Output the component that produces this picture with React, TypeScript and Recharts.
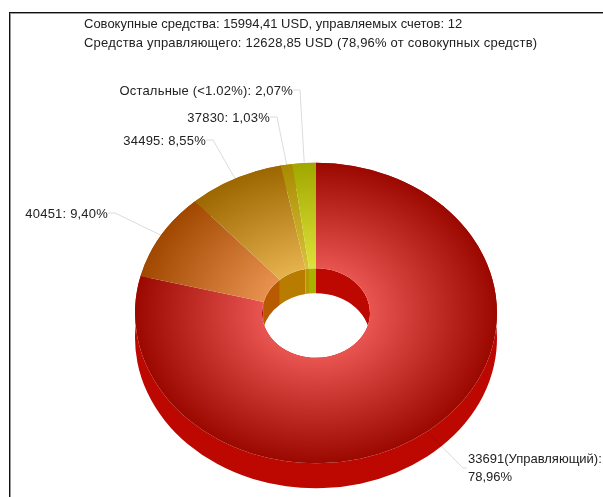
import React from "react";
import { PieChart, Pie } from "recharts";

const SLICE_NAMES = ["33691(Управляющий):", "40451:", "34495:", "37830:", "Остальные (<1.02%):"];
const SLICE_VALUES = [78.96, 9.4, 8.55, 1.03, 2.07];
const SLICE_LABELS = ["78,96%", "9,40%", "8,55%", "1,03%", "2,07%"];
const HEADER_LINES = [
  "Совокупные средства: 15994,41 USD, управляемых счетов: 12",
  "Средства управляющего: 12628,85 USD (78,96% от совокупных средств)",
];

const LIGHT = ["#e85450", "#e8914f", "#e6b24e", "#d9c23c", "#dde23a"];
const DARK = ["#9a0800", "#a04800", "#9c6600", "#a88a00", "#a0a800"];
const WALL = ["#bc0800", "#b85a00", "#b87c00", "#b89800", "#a8b000"];

// elbow of each leader line, the label sits just left/right of it
const ELBOWS = [
  { x: 463, y: 468 },
  { x: 115, y: 213 },
  { x: 213, y: 140 },
  { x: 277, y: 117 },
  { x: 300, y: 90 },
];

const tableData = SLICE_NAMES.map((name, i) => ({ name, value: SLICE_VALUES[i], label: SLICE_LABELS[i] }));
const topData = tableData.map((d, i) => ({ ...d, fill: `url(#face${i})` }));
const wallData = tableData.map((d, i) => ({ ...d, fill: WALL[i] }));

const CX = 316;
const CY = 313;
const SQUASH = 0.83;
const DEPTH = 25;
const OUTER = 181;
const INNER = 54;
const RAD = Math.PI / 180;

const pt = (cx: number, cy: number, r: number, a: number) => ({
  x: cx + r * Math.cos(-a * RAD),
  y: cy + r * SQUASH * Math.sin(-a * RAD),
});

function arc(cx: number, cy: number, r: number, from: number, to: number, move: boolean) {
  const p0 = pt(cx, cy, r, from);
  const p1 = pt(cx, cy, r, to);
  const large = Math.abs(to - from) > 180 ? 1 : 0;
  const sweep = to < from ? 1 : 0;
  return `${move ? "M" : "L"}${p0.x} ${p0.y} A${r} ${r * SQUASH} 0 ${large} ${sweep} ${p1.x} ${p1.y}`;
}

function FaceSector(props: any) {
  const { cx, cy, innerRadius, outerRadius, startAngle, endAngle, fill } = props;
  const d =
    arc(cx, cy, outerRadius, startAngle, endAngle, true) +
    " " +
    arc(cx, cy, innerRadius, endAngle, startAngle, false) +
    " Z";
  return <path d={d} fill={fill} stroke="none" />;
}

function WallSector(props: any) {
  const { cx, cy, innerRadius, outerRadius, startAngle, endAngle, fill } = props;
  const outer =
    arc(cx, cy, outerRadius, startAngle, endAngle, true) +
    " " +
    arc(cx, cy + DEPTH, outerRadius, endAngle, startAngle, false) +
    " Z";
  const inner =
    arc(cx, cy, innerRadius, startAngle, endAngle, true) +
    " " +
    arc(cx, cy + DEPTH, innerRadius, endAngle, startAngle, false) +
    " Z";
  return <path d={outer + " " + inner} fill={fill} stroke="none" />;
}

function LeaderLine(props: any) {
  const { index, midAngle, cx, cy, outerRadius } = props;
  const p = pt(cx, cy, outerRadius, midAngle);
  const e = ELBOWS[index];
  const endX = index === 0 ? e.x + 4 : e.x - 7;
  // multiply keeps the line grey on white and barely visible where it crosses the wall
  return (
    <polyline
      points={`${p.x},${p.y} ${e.x},${e.y} ${endX},${e.y}`}
      fill="none"
      stroke="#dcdcdc"
      strokeWidth={1}
      style={{ mixBlendMode: "multiply" }}
    />
  );
}

function SliceLabel(props: any) {
  const { index } = props;
  const e = ELBOWS[index];
  const d = tableData[index];
  if (index === 0) {
    return (
      <text x={e.x + 5} y={e.y - 5} fontSize={13} fontFamily="Liberation Sans" fill="#222">
        <tspan x={e.x + 5}>{d.name}</tspan>
        <tspan x={e.x + 5} dy={18}>{d.label}</tspan>
      </text>
    );
  }
  return (
    <text x={e.x - 7} y={e.y + 5} textAnchor="end" fontSize={13} letterSpacing={0.2} fontFamily="Liberation Sans" fill="#222">
      {`${d.name} ${d.label}`}
    </text>
  );
}

export default function App() {
  return (
    <div style={{ position: "absolute", left: 0, top: 0, width: 603, height: 497, background: "#fff", overflow: "hidden" }}>
      <div style={{ position: "absolute", left: 9, top: 12, width: 600, height: 500, borderLeft: "1px solid #111", borderTop: "1px solid #111", boxShadow: "inset 1px 1px 0 #999" }} />
      <div style={{ position: "absolute", left: 84, top: 14, fontFamily: "Liberation Sans", fontSize: 13, lineHeight: "19px", color: "#222", whiteSpace: "nowrap" }}>
        {HEADER_LINES.map((t, i) => (
          <div key={t} style={{ letterSpacing: i === 1 ? 0.2 : 0 }}>{t}</div>
        ))}
      </div>
      <div style={{ position: "absolute", left: 0, top: 0 }}>
        <PieChart width={603} height={497} margin={{ top: 0, right: 0, bottom: 0, left: 0 }}>
          <defs>
            {LIGHT.map((c, i) => (
              <radialGradient
                key={c}
                id={`face${i}`}
                gradientUnits="userSpaceOnUse"
                cx={CX}
                cy={CY}
                r={OUTER}
                gradientTransform={`translate(0 ${CY}) scale(1 ${SQUASH}) translate(0 ${-CY})`}
              >
                <stop offset="0.3" stopColor={c} />
                <stop offset="1" stopColor={DARK[i]} />
              </radialGradient>
            ))}
          </defs>
          <Pie
            data={wallData}
            dataKey="value"
            cx={CX}
            cy={CY}
            innerRadius={INNER}
            outerRadius={OUTER}
            startAngle={90}
            endAngle={-270}
            stroke="none"
            shape={WallSector}
            isAnimationActive={false}
          />
          <Pie
            data={topData}
            dataKey="value"
            cx={CX}
            cy={CY}
            innerRadius={INNER}
            outerRadius={OUTER}
            startAngle={90}
            endAngle={-270}
            stroke="none"
            shape={FaceSector}
            label={SliceLabel}
            labelLine={LeaderLine}
            isAnimationActive={false}
          />
        </PieChart>
      </div>
    </div>
  );
}
